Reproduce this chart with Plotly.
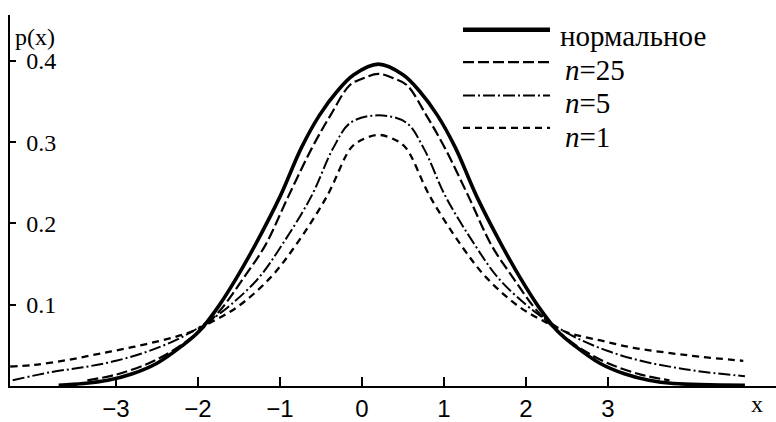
import plotly.graph_objects as go

# ---- data ----
x_normal = [-3.70, -3.40, -3.10, -2.80, -2.50, -2.20, -1.98, -1.75, -1.53, -1.30, -1.00, -0.74, -0.52, -0.30, -0.10,
            0.20, 0.50, 0.70, 0.92, 1.14, 1.40, 1.70, 1.93, 2.15, 2.38, 2.60, 2.90, 3.20, 3.50, 3.80, 4.67]
y_normal = [0.001, 0.003, 0.007, 0.015, 0.028, 0.049, 0.068, 0.098, 0.133, 0.174, 0.233, 0.293, 0.333, 0.363, 0.383,
            0.396, 0.383, 0.363, 0.333, 0.293, 0.233, 0.174, 0.133, 0.098, 0.068, 0.049, 0.028, 0.015, 0.007, 0.003, 0.001]

x_n25 = [-3.35, -3.00, -2.60, -2.30, -2.05, -1.85, -1.69, -1.43, -1.18, -0.90, -0.61, -0.385, -0.15, 0.00,
         0.20, 0.40, 0.55, 0.785, 1.01, 1.30, 1.58, 1.83, 2.09, 2.25, 2.45, 2.70, 3.00, 3.40, 3.75]
y_n25 = [0.007, 0.014, 0.028, 0.044, 0.062, 0.080, 0.098, 0.135, 0.173, 0.233, 0.293, 0.333, 0.370, 0.378,
         0.384, 0.378, 0.370, 0.333, 0.293, 0.233, 0.173, 0.135, 0.098, 0.080, 0.062, 0.044, 0.028, 0.014, 0.007]

x_n5 = [-4.26, -3.80, -3.40, -3.00, -2.60, -2.20, -1.85, -1.60, -1.26, -0.98, -0.62, -0.35, -0.14,
        0.20, 0.54, 0.75, 1.02, 1.38, 1.66, 2.00, 2.25, 2.60, 3.00, 3.40, 3.80, 4.20, 4.67]
y_n5 = [0.007, 0.017, 0.023, 0.031, 0.043, 0.060, 0.081, 0.100, 0.133, 0.173, 0.233, 0.293, 0.324,
        0.333, 0.324, 0.293, 0.233, 0.173, 0.133, 0.100, 0.081, 0.060, 0.043, 0.031, 0.023, 0.017, 0.012]

x_n1 = [-4.29, -4.00, -3.59, -3.19, -2.79, -2.37, -2.10, -1.85, -1.51, -1.12, -0.81, -0.43, -0.135, 0.00,
        0.20, 0.40, 0.535, 0.83, 1.21, 1.52, 1.91, 2.25, 2.50, 2.91, 3.31, 3.72, 4.13, 4.65]
y_n1 = [0.024, 0.026, 0.032, 0.040, 0.048, 0.058, 0.066, 0.078, 0.098, 0.133, 0.173, 0.233, 0.293, 0.303,
        0.309, 0.303, 0.293, 0.233, 0.173, 0.133, 0.098, 0.078, 0.066, 0.056, 0.047, 0.041, 0.036, 0.031]

x_ticks = [-3, -2, -1, 0, 1, 2, 3]
x_tick_labels = ["−3", "−2", "−1", "0", "1", "2", "3"]
y_ticks = [0.1, 0.2, 0.3, 0.4]
y_tick_labels = ["0.1", "0.2", "0.3", "0.4"]

legend_names = ["нормальное", "<i>n</i>=25", "<i>n</i>=5", "<i>n</i>=1"]

# ---- styles ----
W, H = 776, 422
ML, MR, MT, MB = 10, 0, 15, 29
SERIF = "Liberation Serif"
styles = [
    dict(width=3.6, dash="solid"),
    dict(width=2.2, dash="11px,4px"),
    dict(width=2.0, dash="12px,3px,2px,3px"),
    dict(width=2.3, dash="7px,5px"),
]
series = [(x_normal, y_normal), (x_n25, y_n25), (x_n5, y_n5), (x_n1, y_n1)]

fig = go.Figure()
for (xs, ys), st, name in zip(series, styles, legend_names):
    fig.add_trace(go.Scatter(x=xs, y=ys, mode="lines", name=name,
                             line=dict(color="black", width=st["width"], dash=st["dash"],
                                       shape="spline", smoothing=1.0),
                             showlegend=False, hoverinfo="skip"))

def px2paper_x(px):
    return (px - ML) / (W - ML - MR)

def px2paper_y(py):
    return (H - MB - py) / (H - MT - MB)

# manual legend
leg_line_y = [30, 63, 97, 130]
leg_text_y = [36, 71, 105, 139]
leg_text_x = [558, 563, 563, 563]
for st, ly, ty, tx, name in zip(styles, leg_line_y, leg_text_y, leg_text_x, legend_names):
    fig.add_shape(type="line", xref="paper", yref="paper",
                  x0=px2paper_x(463), x1=px2paper_x(550),
                  y0=px2paper_y(ly), y1=px2paper_y(ly),
                  line=dict(color="black", width=st["width"] + (0.8 if st["dash"] == "solid" else 0),
                            dash=st["dash"]))
    fig.add_annotation(xref="paper", yref="paper", x=px2paper_x(tx), y=px2paper_y(ty),
                       text=name, showarrow=False, xanchor="left", yanchor="middle",
                       font=dict(family=SERIF, size=29, color="black"))

fig.add_annotation(xref="paper", yref="paper", x=px2paper_x(13), y=px2paper_y(37),
                   text="p(x)", showarrow=False, xanchor="left", yanchor="middle",
                   font=dict(family=SERIF, size=24, color="black"))
fig.add_annotation(xref="paper", yref="paper", x=px2paper_x(757), y=px2paper_y(411),
                   text="x", showarrow=False, xanchor="center", yanchor="middle",
                   font=dict(family=SERIF, size=24, color="black"))

fig.update_layout(
    width=W, height=H,
    margin=dict(l=ML, r=MR, t=MT, b=MB),
    paper_bgcolor="white", plot_bgcolor="white",
    showlegend=False,
)
fig.update_xaxes(range=[-4.293, 5.049], showgrid=False, zeroline=False,
                 showline=True, linecolor="black", linewidth=2,
                 tickmode="array", tickvals=x_ticks, ticktext=x_tick_labels,
                 ticks="inside", ticklen=9, tickwidth=1.5, tickcolor="black",
                 tickfont=dict(family="Liberation Sans Narrow, Liberation Sans, sans-serif",
                               size=24, color="black"))
fig.update_yaxes(range=[0, 0.4565], showgrid=False, zeroline=False,
                 showline=True, linecolor="black", linewidth=2,
                 tickmode="array", tickvals=y_ticks, ticktext=y_tick_labels,
                 ticks="inside", ticklen=6, tickwidth=1.5, tickcolor="black",
                 ticklabelposition="inside", ticklabelstandoff=12,
                 tickfont=dict(family=SERIF, size=24, color="black"))

fig.write_html("out.html")
